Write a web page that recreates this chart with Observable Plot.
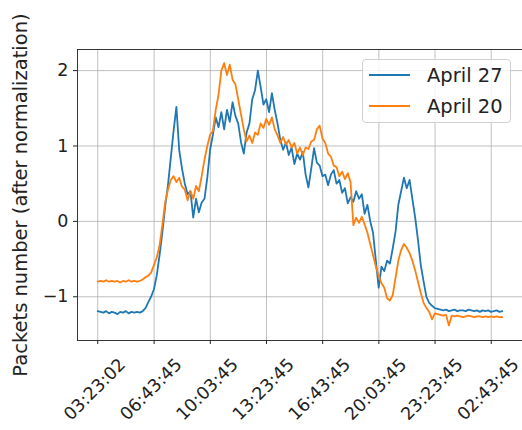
<!DOCTYPE html>
<html>
<head>
<meta charset="utf-8">
<script src="https://cdn.jsdelivr.net/npm/d3@7"></script>
<script src="https://cdn.jsdelivr.net/npm/@observablehq/plot@0.6"></script>
<style>
  html, body { margin: 0; padding: 0; background: #fff; }
  #wrap { position: relative; width: 522px; height: 430px; font-family: "DejaVu Sans", sans-serif; }
  #wrap svg { position: absolute; left: 0; top: 0; }
  .legend { position: absolute; left: 362px; top: 59px; width: 149px; height: 64px;
            border: 1px solid #d0d0d0; border-radius: 4px; background: rgba(255,255,255,0.8); box-sizing: border-box; }
  .row { position: relative; height: 31px; line-height: 31px; font-size: 19.5px; color: #222; }
  .row .sw { position: absolute; left: 6px; top: 14px; width: 41px; height: 2px; }
  .row .tx { position: absolute; left: 64px; top: 0; white-space: nowrap; }
</style>
</head>
<body>
<div id="wrap"></div>
<script>
const startTime = Date.UTC(2020, 3, 27, 3, 23, 2);
const stepMinutes = 10;
const seriesNames = ["April 27", "April 20"];
const seriesColors = ["#1f77b4", "#ff7f0e"];

const april27 = [
  -1.19,-1.20,-1.21,-1.19,-1.22,-1.20,-1.21,-1.23,-1.20,-1.21,-1.19,-1.22,-1.20,-1.21,-1.20,-1.21,-1.19,
  -1.15,-1.07,-1.00,-0.90,-0.72,-0.45,-0.15,0.20,0.48,0.84,1.20,1.52,
  0.95,0.70,0.50,0.36,0.40,0.05,0.30,0.12,0.25,0.30,
  0.58,0.95,1.15,1.38,1.25,1.45,1.22,1.48,1.32,1.58,1.40,1.30,1.05,0.90,
  1.18,1.30,1.62,1.74,2.00,1.78,1.55,1.62,1.45,1.70,1.48,1.30,
  1.08,0.95,1.05,0.88,0.98,0.76,0.90,0.82,0.92,0.62,0.45,0.70,
  0.97,0.78,0.74,0.60,0.62,0.48,0.62,0.68,0.50,0.55,0.38,0.44,0.24,0.32,
  0.26,0.40,0.30,0.36,0.10,0.22,0.00,-0.15,-0.52,-0.88,
  -0.60,-0.66,-0.52,-0.56,-0.36,-0.14,0.22,0.40,0.58,0.44,0.55,0.30,
  0.05,-0.25,-0.58,-0.80,-1.00,-1.08,-1.12,-1.15,-1.16,-1.17,
  -1.18,-1.17,-1.19,-1.18,-1.17,-1.19,-1.18,-1.18,-1.19,-1.17,-1.18,-1.19,-1.18,-1.20,-1.18,-1.19,-1.18,-1.20,-1.19,-1.18,-1.20,-1.19
];

const april20 = [
  -0.80,-0.79,-0.80,-0.78,-0.80,-0.79,-0.80,-0.79,-0.81,-0.79,-0.80,-0.78,-0.80,-0.79,-0.80,-0.79,-0.77,
  -0.74,-0.72,-0.68,-0.58,-0.48,-0.32,-0.05,0.25,0.42,0.55,0.60,0.52,
  0.58,0.46,0.42,0.28,0.40,0.30,0.47,0.40,0.60,0.82,
  1.00,1.15,1.20,1.48,1.68,2.00,2.10,1.94,2.08,1.88,1.82,1.62,
  1.42,1.22,1.06,1.14,1.04,1.18,1.15,1.30,1.24,1.36,1.28,1.38,1.22,1.14,
  1.04,1.12,1.02,1.08,0.98,1.04,0.90,0.98,0.88,0.98,0.96,1.06,
  1.08,1.22,1.27,1.10,1.04,0.90,0.86,0.74,0.72,0.60,0.66,0.56,0.64,0.52,
  -0.05,0.05,-0.02,0.06,-0.04,-0.15,-0.30,-0.45,-0.60,-0.72,
  -0.82,-0.88,-1.02,-1.05,-0.98,-0.75,-0.52,-0.38,-0.30,-0.35,-0.42,-0.52,
  -0.65,-0.80,-0.95,-1.08,-1.15,-1.20,-1.30,-1.22,-1.23,-1.24,
  -1.25,-1.24,-1.38,-1.25,-1.26,-1.25,-1.26,-1.27,-1.26,-1.25,-1.26,-1.27,-1.26,-1.26,-1.27,-1.26,-1.27,-1.26,-1.27,-1.26,-1.27,-1.27
];

const xTickLabels = ["03:23:02","06:43:45","10:03:45","13:23:45","16:43:45","20:03:45","23:23:45","02:43:45"];
const yTicks = [-1, 0, 1, 2];
const yDomain = [-1.58, 2.28];
const yLabel = "Packets number (after normalization)";

const step = stepMinutes * 60000;
const rows = [];
[april27, april20].forEach((vals, s) => {
  vals.forEach((v, i) => rows.push({series: seriesNames[s], time: new Date(startTime + i * step), value: v}));
});
const n = Math.max(april27.length, april20.length);
const span = (n - 1) * step;
const xDomain = [new Date(startTime - 0.05 * span), new Date(startTime + span + 0.05 * span)];

const startDate = new Date(startTime);
const xTicks = xTickLabels.map(lbl => {
  const [h, m, s] = lbl.split(":").map(Number);
  let t = Date.UTC(startDate.getUTCFullYear(), startDate.getUTCMonth(), startDate.getUTCDate(), h, m, s);
  if (t < startTime) t += 86400000;
  return new Date(t);
});

const fmtY = d => (d < 0 ? "\u2212" + Math.abs(d) : String(d));

const chart = Plot.plot({
  width: 522,
  height: 430,
  marginLeft: 77,
  marginRight: 0,
  marginTop: 49,
  marginBottom: 90,
  style: {fontFamily: "DejaVu Sans, sans-serif", background: "transparent"},
  x: {type: "utc", domain: xDomain},
  y: {domain: yDomain},
  color: {domain: seriesNames, range: seriesColors},
  marks: [
    Plot.gridX(xTicks, {stroke: "#b0b0b0", strokeOpacity: 1, strokeWidth: 0.8}),
    Plot.gridY(yTicks, {stroke: "#b0b0b0", strokeOpacity: 1, strokeWidth: 0.8}),
    Plot.line(rows, {x: "time", y: "value", z: "series", stroke: "series", strokeWidth: 1.8}),
    Plot.frame({stroke: "#222", strokeWidth: 0.9}),
    Plot.axisX({ticks: xTicks, tickFormat: () => "", tickSize: 4, stroke: "#222", label: null}),
    Plot.text(xTicks, {x: d => d, text: (d, i) => xTickLabels[i], frameAnchor: "bottom", dy: 49, dx: -3,
      rotate: -45, textAnchor: "middle", lineAnchor: "middle", fontSize: 17.5, fill: "#222"}),
    Plot.axisY({ticks: yTicks, tickFormat: fmtY, tickSize: 4, tickPadding: 5, fontSize: 17.5, stroke: "#222", fill: "#222", label: null}),
    Plot.text([yLabel], {frameAnchor: "left", dx: -57, rotate: -90, textAnchor: "middle", lineAnchor: "middle",
      fontSize: 19.5, fill: "#222"})
  ]
});

const wrap = document.getElementById("wrap");
wrap.appendChild(chart);

const legend = document.createElement("div");
legend.className = "legend";
seriesNames.forEach((name, i) => {
  const r = document.createElement("div");
  r.className = "row";
  const sw = document.createElement("span");
  sw.className = "sw";
  sw.style.background = seriesColors[i];
  const tx = document.createElement("span");
  tx.className = "tx";
  tx.textContent = name;
  r.appendChild(sw);
  r.appendChild(tx);
  legend.appendChild(r);
});
wrap.appendChild(legend);
</script>
</body>
</html>
